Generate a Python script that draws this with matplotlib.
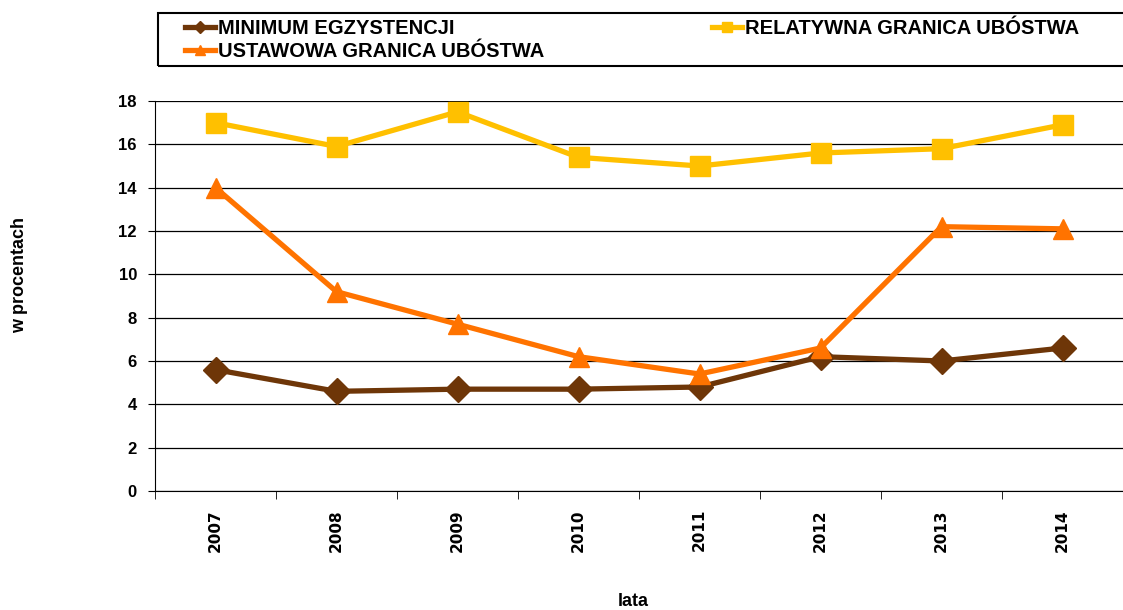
import matplotlib
matplotlib.use("Agg")
import matplotlib.pyplot as plt
from matplotlib.patches import Rectangle

years = ["2007", "2008", "2009", "2010", "2011", "2012", "2013", "2014"]
minimum_egz = [5.6, 4.6, 4.7, 4.7, 4.8, 6.2, 6.0, 6.6]
relatywna = [17.0, 15.9, 17.5, 15.4, 15.0, 15.6, 15.8, 16.9]
ustawowa = [14.0, 9.2, 7.7, 6.2, 5.4, 6.6, 12.2, 12.1]

C_MIN = "#6E3608"
C_REL = "#FFC000"
C_UST = "#FF7300"

arial = ["Liberation Sans", "DejaVu Sans"]
verdana = ["DejaVu Sans"]

fig = plt.figure(figsize=(11.23, 6.10), dpi=100)
ax = fig.add_axes([155 / 1123, 1 - 491 / 610, 968 / 1123, 390 / 610])

x = list(range(len(years)))
l_min, = ax.plot(x, minimum_egz, color=C_MIN, lw=3.8, marker="D", ms=13,
                 label="MINIMUM EGZYSTENCJI", zorder=3)
l_rel, = ax.plot(x, relatywna, color=C_REL, lw=3.8, marker="s", ms=14.5,
                 label="RELATYWNA GRANICA UBÓSTWA", zorder=3)
l_ust, = ax.plot(x, ustawowa, color=C_UST, lw=3.8, marker="^", ms=15,
                 label="USTAWOWA GRANICA UBÓSTWA", zorder=3)

ax.set_xlim(-0.5, 7.5)
ax.set_ylim(0, 18)
ax.set_yticks(range(0, 19, 2))
ax.yaxis.grid(True, color="black", lw=0.9)
ax.set_axisbelow(True)
for s in ["top", "right"]:
    ax.spines[s].set_visible(False)

ax.set_xticks(x)
ax.set_xticklabels(years, rotation=90, fontsize=11, fontweight="bold", family=verdana)
ax.tick_params(axis="x", which="major", length=0, pad=13)
ax.set_xticks([i + 0.5 for i in range(-1, 8)], minor=True)
ax.tick_params(axis="x", which="minor", length=6, color="black")
ax.tick_params(axis="y", length=5, color="black", pad=8)
for t in ax.get_yticklabels():
    t.set_fontweight("bold")
    t.set_fontsize(12)
    t.set_family(arial)

fig.text(20 / 1123, 1 - 275 / 610, "w procentach", rotation=90, ha="center", va="center",
         fontsize=13, fontweight="bold", family=arial)
fig.text(633 / 1123, 1 - 602 / 610, "lata", ha="center", va="center",
         fontsize=13, fontweight="bold", family=arial)

# legend frame
fig.patches.append(Rectangle((158 / 1123, 1 - 66 / 610), 1000 / 1123, 53 / 610,
                             transform=fig.transFigure, fill=False, edgecolor="black", lw=1.5))
leg = fig.legend(handles=[l_min, l_ust, l_rel], loc="upper left",
                 bbox_to_anchor=(185 / 1123, 1 - 19 / 610), ncol=2, frameon=False,
                 prop={"family": arial, "weight": "bold", "size": 14.5},
                 handlelength=1.5, handletextpad=0.15, columnspacing=8.3,
                 labelspacing=0.2, markerscale=0.45, borderpad=0, borderaxespad=0)

fig.savefig("out.png", dpi=100)
